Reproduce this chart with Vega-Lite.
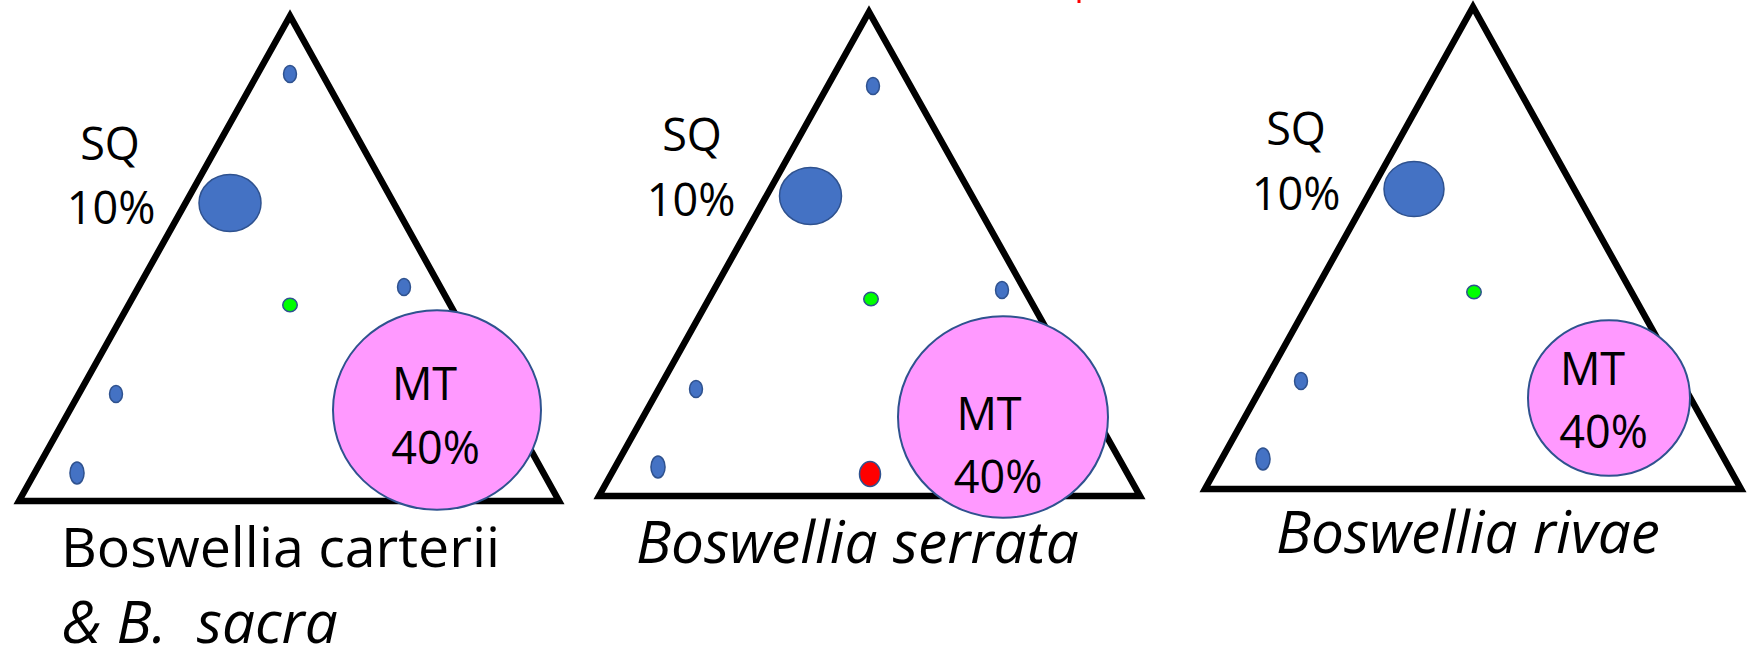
{
  "$schema": "https://vega.github.io/schema/vega-lite/v6.json",
  "width": 1747,
  "height": 653,
  "autosize": {"type": "none"},
  "padding": 0,
  "background": "white",
  "config": {"view": {"stroke": null}},
  "datasets": {
    "tri": [
      {"panel": "A", "ord": 1, "x": 19, "y": 501},
      {"panel": "A", "ord": 2, "x": 290, "y": 16},
      {"panel": "A", "ord": 3, "x": 559, "y": 501},
      {"panel": "A", "ord": 4, "x": 19, "y": 501},
      {"panel": "A", "ord": 5, "x": 290, "y": 16},
      {"panel": "B", "ord": 1, "x": 599, "y": 496},
      {"panel": "B", "ord": 2, "x": 869, "y": 12},
      {"panel": "B", "ord": 3, "x": 1140, "y": 496},
      {"panel": "B", "ord": 4, "x": 599, "y": 496},
      {"panel": "B", "ord": 5, "x": 869, "y": 12},
      {"panel": "C", "ord": 1, "x": 1205, "y": 489},
      {"panel": "C", "ord": 2, "x": 1473, "y": 7},
      {"panel": "C", "ord": 3, "x": 1741, "y": 489},
      {"panel": "C", "ord": 4, "x": 1205, "y": 489},
      {"panel": "C", "ord": 5, "x": 1473, "y": 7}
    ],
    "dots": [
      {"panel": "A", "type": "pt", "x": 290, "y": 74, "w": 2.89},
      {"panel": "A", "type": "SQ", "x": 230, "y": 203, "w": 38.44},
      {"panel": "A", "type": "pt", "x": 404, "y": 287, "w": 2.89},
      {"panel": "A", "type": "trace", "x": 290, "y": 305, "w": 2.1},
      {"panel": "A", "type": "pt", "x": 116, "y": 394, "w": 2.89},
      {"panel": "A", "type": "ptlow", "x": 77, "y": 473, "w": 4.84},
      {"panel": "A", "type": "MT", "x": 437, "y": 410, "w": 432.64},
      {"panel": "B", "type": "pt", "x": 873, "y": 86, "w": 2.89},
      {"panel": "B", "type": "SQ", "x": 810.5, "y": 196, "w": 38.44},
      {"panel": "B", "type": "pt", "x": 1002, "y": 290, "w": 2.89},
      {"panel": "B", "type": "trace", "x": 871, "y": 299, "w": 2.1},
      {"panel": "B", "type": "pt", "x": 696, "y": 389, "w": 2.89},
      {"panel": "B", "type": "ptlow", "x": 658, "y": 467, "w": 4.84},
      {"panel": "B", "type": "marker", "x": 870, "y": 474, "w": 6.25},
      {"panel": "B", "type": "MT", "x": 1003, "y": 417, "w": 441},
      {"panel": "C", "type": "SQ", "x": 1414, "y": 189, "w": 36},
      {"panel": "C", "type": "trace", "x": 1474, "y": 292, "w": 2.1},
      {"panel": "C", "type": "pt", "x": 1301, "y": 381, "w": 2.89},
      {"panel": "C", "type": "ptlow", "x": 1263, "y": 459, "w": 4.84},
      {"panel": "C", "type": "MT", "x": 1609, "y": 398, "w": 262.44}
    ],
    "labels": [
      {"label": "SQ", "x": 110, "y": 160},
      {"label": "10%", "x": 111, "y": 224},
      {"label": "MT", "x": 424.5, "y": 400},
      {"label": "40%", "x": 435.5, "y": 464},
      {"label": "SQ", "x": 692, "y": 151},
      {"label": "10%", "x": 691, "y": 216},
      {"label": "MT", "x": 989, "y": 430},
      {"label": "40%", "x": 998, "y": 493},
      {"label": "SQ", "x": 1296, "y": 145},
      {"label": "10%", "x": 1296, "y": 210},
      {"label": "MT", "x": 1592.5, "y": 385},
      {"label": "40%", "x": 1603.5, "y": 448}
    ],
    "titles": [
      {"label": "Boswellia carterii", "style": "normal", "x": 61, "y": 567},
      {"label": "& B. \u00a0sacra", "style": "italic", "x": 62, "y": 643},
      {"label": "Boswellia serrata", "style": "italic", "x": 636, "y": 563},
      {"label": "Boswellia rivae", "style": "italic", "x": 1276, "y": 553}
    ],
    "stray": [
      {"x": 1079, "y": 0, "y2": 3}
    ]
  },
  "layer": [
    {
      "data": {"name": "tri"},
      "mark": {"type": "line", "color": "black", "strokeWidth": 6.5, "strokeJoin": "miter", "strokeMiterLimit": 10},
      "encoding": {
        "x": {"field": "x", "type": "quantitative", "scale": {"domain": [0, 1747], "nice": false, "zero": false}, "axis": null},
        "y": {"field": "y", "type": "quantitative", "scale": {"domain": [0, 653], "nice": false, "zero": false, "reverse": true}, "axis": null},
        "detail": {"field": "panel"},
        "order": {"field": "ord", "type": "quantitative"}
      }
    },
    {
      "data": {"name": "stray"},
      "mark": {"type": "rule", "color": "#FF0000", "strokeWidth": 3},
      "encoding": {
        "x": {"field": "x", "type": "quantitative"},
        "y": {"field": "y", "type": "quantitative"},
        "y2": {"field": "y2"}
      }
    },
    {
      "data": {"name": "dots"},
      "transform": [{"filter": "datum.type !== 'MT'"}],
      "mark": {"type": "point", "filled": true, "opacity": 1, "stroke": "#2F528F", "strokeWidth": 1.5},
      "encoding": {
        "x": {"field": "x", "type": "quantitative"},
        "y": {"field": "y", "type": "quantitative"},
        "size": {"field": "w", "type": "quantitative", "scale": {"type": "linear", "domain": [0, 500], "range": [0, 50000], "zero": true}, "legend": null},
        "shape": {"field": "type", "type": "nominal", "scale": {
          "domain": ["pt", "ptlow", "SQ", "trace", "marker", "MT"],
          "range": [
            "M -0.76 0 A 0.76 1 0 1 0 0.76 0 A 0.76 1 0 1 0 -0.76 0 Z",
            "M -0.64 0 A 0.64 1 0 1 0 0.64 0 A 0.64 1 0 1 0 -0.64 0 Z",
            "M -1 0 A 1 0.92 0 1 0 1 0 A 1 0.92 0 1 0 -1 0 Z",
            "M -1 0 A 1 0.93 0 1 0 1 0 A 1 0.93 0 1 0 -1 0 Z",
            "M -0.84 0 A 0.84 1 0 1 0 0.84 0 A 0.84 1 0 1 0 -0.84 0 Z",
            "M -1 0 A 1 0.96 0 1 0 1 0 A 1 0.96 0 1 0 -1 0 Z"
          ]}, "legend": null},
        "fill": {"field": "type", "type": "nominal", "scale": {
          "domain": ["pt", "ptlow", "SQ", "trace", "marker", "MT"],
          "range": ["#4472C4", "#4472C4", "#4472C4", "#00FF00", "#FF0000", "#FF99FF"]}, "legend": null}
      }
    },
    {
      "data": {"name": "dots"},
      "transform": [{"filter": "datum.type === 'MT'"}],
      "mark": {"type": "point", "filled": true, "opacity": 1, "stroke": "#2F528F", "strokeWidth": 2},
      "encoding": {
        "x": {"field": "x", "type": "quantitative"},
        "y": {"field": "y", "type": "quantitative"},
        "size": {"field": "w", "type": "quantitative", "legend": null},
        "shape": {"field": "type", "type": "nominal", "legend": null},
        "fill": {"field": "type", "type": "nominal", "legend": null}
      }
    },
    {
      "data": {"name": "labels"},
      "mark": {"type": "text", "font": "Open Sans", "fontSize": 45, "align": "center", "baseline": "alphabetic", "color": "black"},
      "encoding": {
        "x": {"field": "x", "type": "quantitative"},
        "y": {"field": "y", "type": "quantitative"},
        "text": {"field": "label"}
      }
    },
    {
      "data": {"name": "titles"},
      "transform": [{"filter": "datum.style === 'normal'"}],
      "mark": {"type": "text", "font": "Open Sans", "fontSize": 55.5, "align": "left", "baseline": "alphabetic", "color": "black"},
      "encoding": {
        "x": {"field": "x", "type": "quantitative"},
        "y": {"field": "y", "type": "quantitative"},
        "text": {"field": "label"}
      }
    },
    {
      "data": {"name": "titles"},
      "transform": [{"filter": "datum.style === 'italic'"}],
      "mark": {"type": "text", "font": "Open Sans", "fontSize": 58.5, "fontStyle": "italic", "align": "left", "baseline": "alphabetic", "color": "black"},
      "encoding": {
        "x": {"field": "x", "type": "quantitative"},
        "y": {"field": "y", "type": "quantitative"},
        "text": {"field": "label"}
      }
    }
  ]
}
